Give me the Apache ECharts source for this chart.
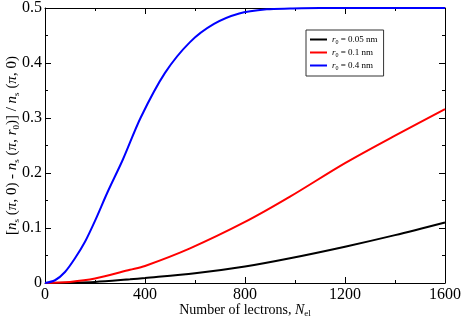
<!DOCTYPE html>
<html>
<head>
<meta charset="utf-8">
<script src="https://cdn.jsdelivr.net/npm/echarts@6/dist/echarts.min.js"></script>
<style>
  html, body { margin: 0; padding: 0; background: #fff; }
  #chart { width: 463px; height: 321px; }
</style>
</head>
<body>
<div id="chart"></div>
<script>
// curve data
var blackN = [0, 200, 340, 400, 600, 800, 980, 1200, 1400, 1600];
var blackV = [0, 0.002, 0.0067, 0.009, 0.0176, 0.030, 0.045, 0.066, 0.087, 0.110];

var redN = [0, 100, 200, 340, 400, 580, 800, 980, 1200, 1400, 1600];
var redV = [0, 0.002, 0.008, 0.024, 0.031, 0.063, 0.111, 0.157, 0.218, 0.268, 0.316];

var blueN = [0, 40, 80, 120, 160, 200, 250, 312, 383, 480, 580, 676, 777, 887, 980, 1100, 1300, 1600];
var blueV = [0, 0.005, 0.02, 0.045, 0.075, 0.113, 0.165, 0.225, 0.301, 0.382, 0.438, 0.471, 0.49, 0.4976, 0.499, 0.5, 0.5, 0.5];

var seriesNames = ['r0 = 0.05 nm', 'r0 = 0.1 nm', 'r0 = 0.4 nm'];
var seriesColors = ['#000000', '#ff0000', '#0000ff'];

function pairs(xs, ys) {
    return xs.map(function (x, i) { return [x, ys[i]]; });
}

var font = 'Liberation Serif';
var chart = echarts.init(document.getElementById('chart'));

function lineSeries(idx, xs, ys) {
    return {
        name: seriesNames[idx],
        type: 'line',
        symbol: 'none',
        smooth: 0.3,
        data: pairs(xs, ys),
        lineStyle: { width: 2, color: seriesColors[idx] },
        itemStyle: { color: seriesColors[idx] },
        z: 3 + idx
    };
}

var majorTick = { show: true, inside: true, length: 6, lineStyle: { color: '#000' } };
var minorTick = { show: true, splitNumber: 2, length: 3, lineStyle: { color: '#000' } };

// mirrored axis (no labels) for top / right frame
function mirrorAxis(pos, min, max, interval) {
    return {
        type: 'value',
        min: min,
        max: max,
        interval: interval,
        position: pos,
        axisLine: { show: true, onZero: false, lineStyle: { color: '#000', width: 1 } },
        axisTick: majorTick,
        minorTick: minorTick,
        axisLabel: { show: false },
        splitLine: { show: false }
    };
}

var option = {
    animation: false,
    textStyle: { fontFamily: font },
    grid: { left: 45, right: 18, top: 8, bottom: 38, containLabel: false, outerBoundsMode: 'none' },
    legend: {
        orient: 'vertical',
        left: 306,
        top: 30,
        width: 77,
        padding: [5, 6, 5, 4],
        borderColor: '#333',
        borderWidth: 1,
        itemWidth: 17,
        itemHeight: 2,
        itemGap: 3,
        icon: 'rect',
        data: seriesNames,
        formatter: function (name) {
            var val = name.replace('r0 = ', '');
            return '{i|r}{s|0}{t| = ' + val + '}';
        },
        textStyle: {
            fontFamily: font,
            fontSize: 9,
            color: '#000',
            rich: {
                i: { fontFamily: font, fontSize: 9, fontStyle: 'italic', lineHeight: 11 },
                s: { fontFamily: font, fontSize: 6, verticalAlign: 'bottom', lineHeight: 8 },
                t: { fontFamily: font, fontSize: 9, lineHeight: 11 }
            }
        }
    },
    xAxis: [{
        type: 'value',
        min: 0,
        max: 1600,
        interval: 400,
        position: 'bottom',
        name: '{t|Number of lectrons, }{i|N}{s|el}',
        nameLocation: 'middle',
        nameGap: 19,
        nameMoveOverlap: false,
        nameTextStyle: {
            rich: {
                t: { fontFamily: font, fontSize: 14, color: '#000', lineHeight: 16 },
                i: { fontFamily: font, fontSize: 14, fontStyle: 'italic', color: '#000', lineHeight: 16 },
                s: { fontFamily: font, fontSize: 9, color: '#000', verticalAlign: 'bottom', lineHeight: 12 }
            }
        },
        axisLine: { onZero: false, lineStyle: { color: '#000', width: 1 } },
        axisTick: majorTick,
        minorTick: minorTick,
        axisLabel: {
            fontFamily: font, fontSize: 16, color: '#000', margin: 4,
            formatter: function (v) { return String(v); }
        },
        splitLine: { show: false }
    }, mirrorAxis('top', 0, 1600, 400)],
    yAxis: [{
        type: 'value',
        min: 0,
        max: 0.5,
        interval: 0.1,
        position: 'left',
        name: '[{i|n}{s|s} ({i|π}, 0) - {i|n}{s|s} ({i|π}, {i|r}{s|0})] / {i|n}{s|s} ({i|π}, 0)',
        nameLocation: 'middle',
        nameGap: 24,
        nameRotate: 90,
        nameMoveOverlap: false,
        nameTextStyle: {
            fontFamily: font,
            fontSize: 15,
            color: '#000',
            lineHeight: 17,
            rich: {
                i: { fontFamily: font, fontSize: 15, fontStyle: 'italic', color: '#000', lineHeight: 17 },
                s: { fontFamily: font, fontSize: 9, color: '#000', verticalAlign: 'bottom', lineHeight: 12 }
            }
        },
        axisLine: { show: true, onZero: false, lineStyle: { color: '#000', width: 1 } },
        axisTick: majorTick,
        minorTick: minorTick,
        axisLabel: {
            fontFamily: font, fontSize: 16, color: '#000', margin: 3,
            formatter: function (v) { return v === 0 ? '0' : v.toFixed(1); }
        },
        splitLine: { show: false }
    }, mirrorAxis('right', 0, 0.5, 0.1)],
    series: [
        lineSeries(0, blackN, blackV),
        lineSeries(1, redN, redV),
        lineSeries(2, blueN, blueV)
    ]
};

chart.setOption(option);
</script>
</body>
</html>
